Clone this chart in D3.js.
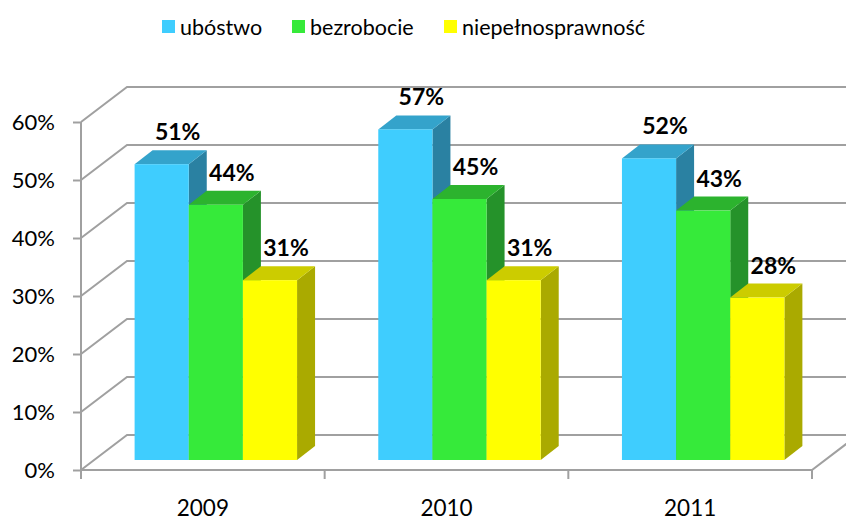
<!DOCTYPE html>
<html>
<head>
<meta charset="utf-8">
<title>ubóstwo / bezrobocie / niepełnosprawność</title>
<script src="https://cdnjs.cloudflare.com/ajax/libs/d3/7.8.5/d3.min.js"></script>
<style>
	body { margin: 0; background: #fff; }
	svg text { font-family: Lato, "Open Sans", sans-serif; fill: #000; }
</style>
</head>
<body>
<div id="chart"></div>
<script>
	// dane
	let years = ["2009", "2010", "2011"];
	let series = ["ubóstwo", "bezrobocie", "niepełnosprawność"];
	let ubostwo = [0.51, 0.57, 0.52];
	let bezrobocie = [0.44, 0.45, 0.43];
	let niepelno = [0.31, 0.31, 0.28];
	let yTicks = [0, 0.1, 0.2, 0.3, 0.4, 0.5, 0.6];

	let colors = [
		{front: "#3fcdfe", top: "#34a3cb", side: "#2a81a2"},
		{front: "#36ea3a", top: "#2cb32e", side: "#25922a"},
		{front: "#ffff00", top: "#cccc00", side: "#aaaa00"}
	];

	let W = 846, H = 522;
	let svg = d3.select("#chart").append("svg").attr("width", W).attr("height", H);

	// glebokosc wykresu (sciana tylna) i przesuniecie slupkow
	let depth = {dx: 46, dy: -35};
	let plane = {dx: 13, dy: -10};
	let barDepth = {dx: 18, dy: -14};

	let x0 = d3.scaleBand().domain(years).range([81, 812]);
	let groupW = x0.bandwidth() / 1.5;
	let x1 = d3.scaleBand().domain(series).range([0, groupW]);
	let y = d3.scaleLinear().domain([0, 0.6]).range([470, 122]);

	let grid = svg.append("g").attr("stroke", "#a0a0a0").attr("stroke-width", 2).attr("fill", "none");

	// linie siatki: lewa sciana + tylna sciana
	yTicks.forEach(function(t){
		grid.append("path")
			.attr("d", "M81," + y(t) + "L" + (81 + depth.dx) + "," + (y(t) + depth.dy) + "L" + (W + 20) + "," + (y(t) + depth.dy));
	});
	// podloga
	grid.append("path")
		.attr("d", "M81," + y(0) + "L812," + y(0) + "L" + (812 + depth.dx) + "," + (y(0) + depth.dy));

	// os Y
	let yAxis = svg.append("g")
		.attr("transform", "translate(81,0)")
		.call(d3.axisLeft(y).tickValues(yTicks).tickSize(8).tickSizeOuter(0).tickFormat(d3.format(".0%")));
	yAxis.select(".domain").attr("stroke", "#a0a0a0").attr("stroke-width", 2).attr("d", "M0," + y(0.6) + "V" + (y(0) + 9));
	yAxis.selectAll(".tick line").attr("stroke", "#a0a0a0").attr("stroke-width", 2);
	yAxis.selectAll(".tick text").style("font-size", "22px").attr("dy", "0.36em").attr("x", -26);

	// os X
	let xTicks = years.map(function(d){ return x0(d); }).concat([812]);
	xTicks.forEach(function(t){
		svg.append("line").attr("x1", t).attr("x2", t).attr("y1", y(0)).attr("y2", y(0) + 9)
			.attr("stroke", "#a0a0a0").attr("stroke-width", 2);
	});
	let xAxis = svg.append("g")
		.attr("transform", "translate(0," + y(0) + ")")
		.call(d3.axisBottom(x0).tickSize(0).tickPadding(30));
	xAxis.select(".domain").remove();
	xAxis.selectAll("text").style("font-size", "22.5px");

	// slupki 3D
	let values = [ubostwo, bezrobocie, niepelno];
	let bars = [];
	years.forEach(function(yr, i){
		series.forEach(function(s, j){
			bars.push({year: yr, serie: s, j: j, v: values[j][i]});
		});
	});

	let barG = svg.append("g");
	bars.forEach(function(b){
		let xl = x0(b.year) + (x0.bandwidth() - groupW) / 2 + x1(b.serie) + plane.dx;
		let xr = xl + x1.bandwidth();
		let yt = y(b.v) + plane.dy;
		let yb = y(0) + plane.dy;
		let c = colors[b.j];
		let g = barG.append("g");
		g.append("path").attr("fill", c.side)
			.attr("d", "M" + xr + "," + yb + "L" + (xr + barDepth.dx) + "," + (yb + barDepth.dy) + "L" + (xr + barDepth.dx) + "," + (yt + barDepth.dy) + "L" + xr + "," + yt + "Z");
		g.append("path").attr("fill", c.top)
			.attr("d", "M" + xl + "," + yt + "L" + (xl + barDepth.dx) + "," + (yt + barDepth.dy) + "L" + (xr + barDepth.dx) + "," + (yt + barDepth.dy) + "L" + xr + "," + yt + "Z");
		g.append("rect").attr("fill", c.front)
			.attr("x", xl).attr("y", yt).attr("width", xr - xl).attr("height", yb - yt);
		b.lx = (xl + xr) / 2 + 16;
		b.ly = yt + barDepth.dy - 10;
	});

	// etykiety danych
	svg.append("g").selectAll("text").data(bars).join("text")
		.attr("x", function(d){ return d.lx; })
		.attr("y", function(d){ return d.ly; })
		.attr("text-anchor", "middle")
		.style("font-size", "23px")
		.style("font-weight", "bold")
		.text(function(d){ return d3.format(".0%")(d.v); });

	// legenda
	let legX = [162, 292, 444];
	let leg = svg.append("g");
	series.forEach(function(s, j){
		leg.append("rect").attr("x", legX[j]).attr("y", 20).attr("width", 13).attr("height", 13).attr("fill", colors[j].front);
		leg.append("text").attr("x", legX[j] + 18).attr("y", 35).style("font-size", "21.5px").text(s);
	});
</script>
</body>
</html>
